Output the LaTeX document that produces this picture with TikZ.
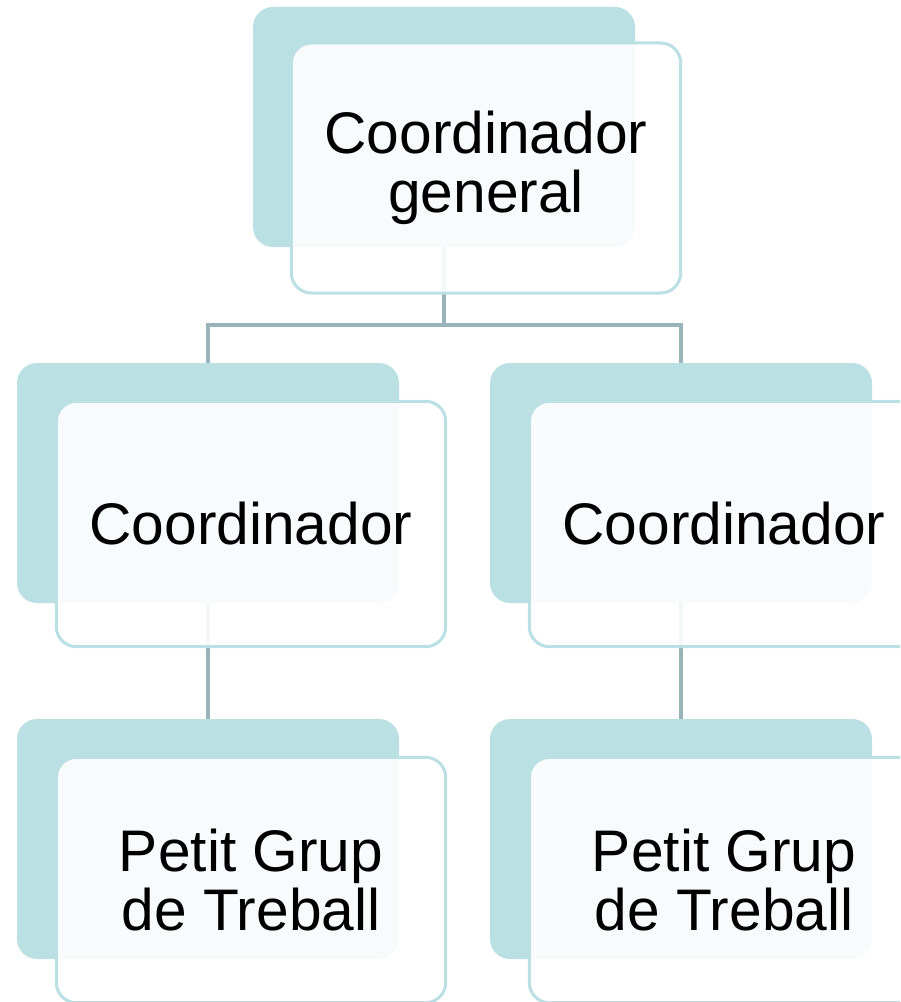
\documentclass[tikz,border=0pt]{standalone}
\usepackage{fontspec}
\setmainfont{Liberation Sans}
\usepackage{xcolor}
\definecolor{boxteal}{RGB}{187,224,227}
\definecolor{linkgray}{RGB}{152,180,184}

\begin{document}
\begin{tikzpicture}[x=0.75pt,y=0.75pt,yscale=-1,xscale=1,
    back/.style={fill=boxteal, rounded corners=15pt, minimum width=286.5pt, minimum height=180pt, inner sep=0pt},
    front/.style={draw=boxteal, line width=2.25pt, fill=white, fill opacity=0.9, text opacity=1, rounded corners=15pt, minimum width=292pt, minimum height=184pt, inner sep=0pt, align=center, font=\fontsize{44}{44}\selectfont},
    link/.style={draw=linkgray, line width=3pt}]
    \useasboundingbox (0,0) rectangle (900,1002);
    \clip (0,0) rectangle (900,1002);

    %Shapes: back cards
    \node [back] (topbg) at (444,127) {};
    \node [back] (leftbg) at (208,483) {};
    \node [back] (rightbg) at (681,483) {};
    \node [back] (grpleftbg) at (208,839) {};
    \node [back] (grprightbg) at (681,839) {};

    %Connectors
    \coordinate (fork) at (444,325);
    \draw [link] (topbg.south) -- (fork) -| (leftbg.north);
    \draw [link] (fork) -| (rightbg.north);
    \draw [link] (leftbg.south) -- (grpleftbg.north);
    \draw [link] (rightbg.south) -- (grprightbg.north);

    %Shapes: front cards with text
    \node [front, minimum height=187.5pt] (top) at (486,168) {Coordinador\\general};
    \node [front] (left) at (251,524) {Coordinador};
    \node [front] (right) at (724,524) {Coordinador};
    \node [front] (grpleft) at (251,880) {Petit Grup\\de Treball};
    \node [front] (grpright) at (724,880) {Petit Grup\\de Treball};

\end{tikzpicture}
\end{document}
